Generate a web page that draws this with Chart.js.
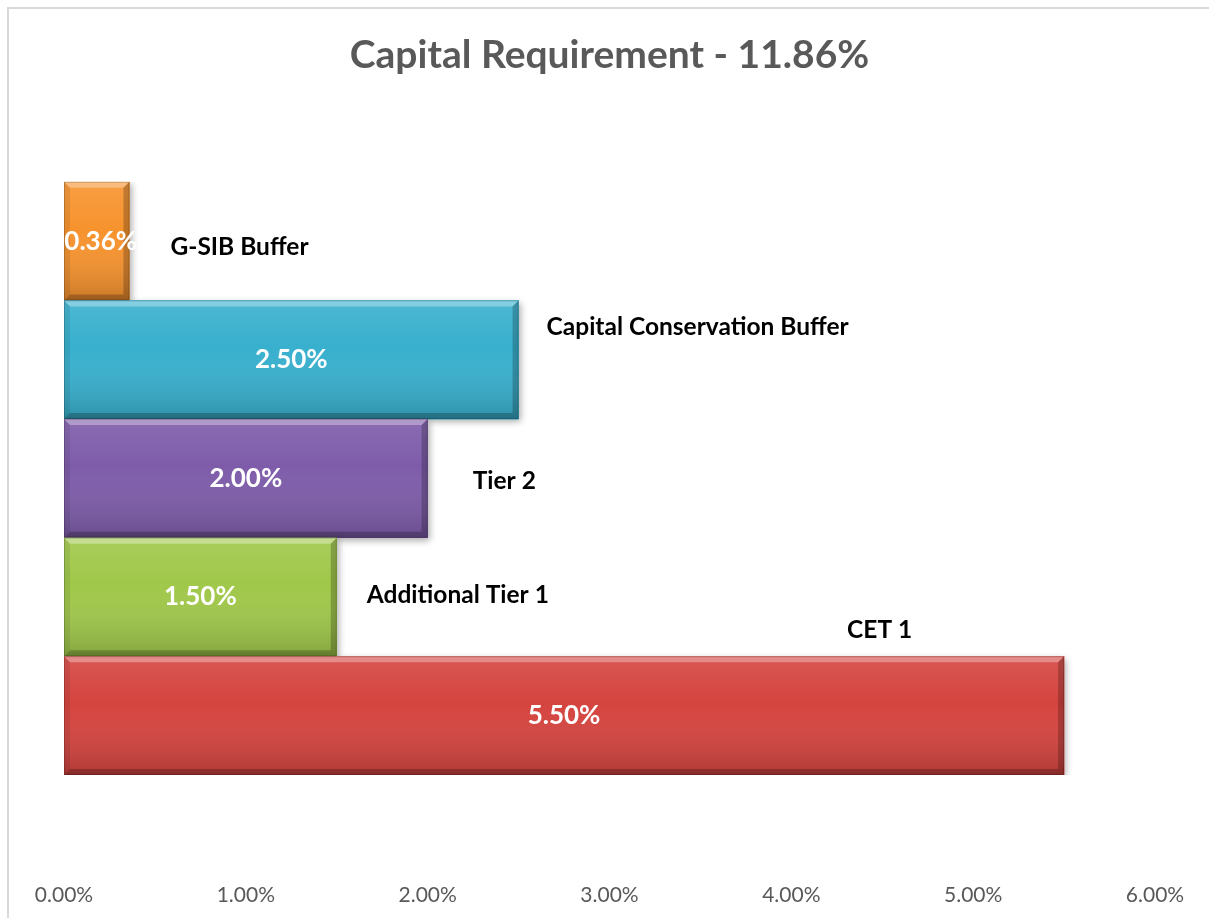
<!DOCTYPE html>
<html>
<head>
<meta charset="utf-8">
<script src="https://cdn.jsdelivr.net/npm/chart.js@4/dist/chart.umd.min.js"></script>
<style>
  html, body { margin: 0; padding: 0; background: #ffffff; }
  #wrap { position: absolute; left: 0; top: 0; width: 1209px; height: 918px; }
</style>
</head>
<body>
<div id="wrap"><canvas id="c" width="1209" height="918"></canvas></div>
<script>
// ---- data ----
const categories = ['G-SIB Buffer', 'Capital Conservation Buffer', 'Tier 2', 'Additional Tier 1', 'CET 1'];
const values = [0.36, 2.50, 2.00, 1.50, 5.50];
const barColors = ['#F7932E', '#38B0CE', '#7E5CAA', '#A0C84A', '#D5443F'];
const tickValues = [0, 1, 2, 3, 4, 5, 6];
const chartTitle = 'Capital Requirement - 11.86%';

// ---- style (label nudges relative to bar end / bar centre, px) ----
const labelNudge = [[41, 6], [28, -33], [45, 3], [30, -2], [-217, -86]];
const FONT = 'Lato';
const TICK_PAD = 108;
const TICK_FONT = 21;

const decor = {
  id: 'decor',
  beforeDraw(chart) {
    const ctx = chart.ctx;
    ctx.save();
    ctx.strokeStyle = '#D9D9D9';
    ctx.lineWidth = 2;
    ctx.beginPath();
    ctx.moveTo(8, 918);
    ctx.lineTo(8, 8);
    ctx.lineTo(1209, 8);
    ctx.stroke();
    ctx.restore();
  },
  beforeDatasetsDraw(chart) {
    const ctx = chart.ctx;
    ctx.save();
    ctx.shadowColor = 'rgba(0,0,0,0.35)';
    ctx.shadowBlur = 7;
    ctx.shadowOffsetX = 2;
    ctx.shadowOffsetY = 3;
  },
  afterDatasetsDraw(chart) {
    const ctx = chart.ctx;
    ctx.restore();
    const meta = chart.getDatasetMeta(0);
    meta.data.forEach((bar, i) => {
      const p = bar.getProps(['x', 'y', 'base', 'height'], true);
      const x0 = p.base, x1 = p.x, y0 = p.y - p.height / 2, y1 = p.y + p.height / 2;
      const b = 6;
      ctx.save();
      const g = ctx.createLinearGradient(0, y0, 0, y1);
      g.addColorStop(0, 'rgba(255,255,255,0.10)');
      g.addColorStop(0.4, 'rgba(255,255,255,0)');
      g.addColorStop(1, 'rgba(0,0,0,0.18)');
      ctx.fillStyle = g;
      ctx.fillRect(x0, y0, x1 - x0, y1 - y0);
      const poly = (pts, col) => {
        ctx.beginPath();
        ctx.moveTo(pts[0][0], pts[0][1]);
        for (let k = 1; k < pts.length; k++) ctx.lineTo(pts[k][0], pts[k][1]);
        ctx.closePath();
        ctx.fillStyle = col;
        ctx.fill();
      };
      poly([[x0, y0], [x1, y0], [x1 - b, y0 + b], [x0 + b, y0 + b]], 'rgba(255,255,255,0.32)');
      poly([[x0, y1], [x1, y1], [x1 - b, y1 - b], [x0 + b, y1 - b]], 'rgba(0,0,0,0.22)');
      poly([[x0, y0], [x0 + b, y0 + b], [x0 + b, y1 - b], [x0, y1]], 'rgba(0,0,0,0.08)');
      poly([[x1, y0], [x1 - b, y0 + b], [x1 - b, y1 - b], [x1, y1]], 'rgba(0,0,0,0.22)');
      ctx.strokeStyle = 'rgba(0,0,0,0.18)';
      ctx.lineWidth = 1;
      ctx.strokeRect(x0 + 0.5, y0 + 0.5, x1 - x0 - 1, y1 - y0 - 1);
      ctx.restore();
    });
    meta.data.forEach((bar, i) => {
      const p = bar.getProps(['x', 'y', 'base'], true);
      ctx.save();
      ctx.textBaseline = 'middle';
      ctx.textAlign = 'center';
      ctx.fillStyle = '#FFFFFF';
      ctx.font = 'bold 26px ' + FONT;
      ctx.fillText(values[i].toFixed(2) + '%', (p.x + p.base) / 2 + (i === 0 ? 4 : 0), p.y);
      ctx.textAlign = 'left';
      ctx.fillStyle = '#000000';
      ctx.font = 'bold 24.5px ' + FONT;
      ctx.fillText(categories[i], p.x + labelNudge[i][0], p.y + labelNudge[i][1]);
      ctx.restore();
    });
  }
};

new Chart(document.getElementById('c'), {
  type: 'bar',
  data: {
    labels: categories,
    datasets: [{
      data: values,
      backgroundColor: barColors,
      borderWidth: 0,
      barPercentage: 1,
      categoryPercentage: 1
    }]
  },
  options: {
    indexAxis: 'y',
    responsive: false,
    animation: false,
    devicePixelRatio: 1,
    layout: { padding: { left: 64, right: 54, top: 0, bottom: 9 } },
    plugins: {
      legend: { display: false },
      tooltip: { enabled: false },
      title: {
        display: true,
        text: chartTitle,
        color: '#595959',
        font: { family: FONT, size: 39, weight: 'bold', lineHeight: 1.2 },
        padding: { top: 32, bottom: 103 }
      }
    },
    scales: {
      y: { display: false },
      x: {
        min: 0,
        max: 6,
        afterBuildTicks(scale) { scale.ticks = tickValues.map(v => ({ value: v })); },
        afterFit(scale) {
          scale.paddingLeft = 0;
          scale.paddingRight = 0;
          scale.height = TICK_PAD + Math.ceil(TICK_FONT * 1.2);
        },
        grid: { display: false, drawTicks: false, tickLength: 0 },
        border: { display: false },
        ticks: {
          padding: TICK_PAD,
          maxRotation: 0,
          minRotation: 0,
          color: '#595959',
          font: { family: FONT, size: TICK_FONT },
          callback: (v) => Number(v).toFixed(2) + '%'
        }
      }
    }
  },
  plugins: [decor]
});
</script>
</body>
</html>
